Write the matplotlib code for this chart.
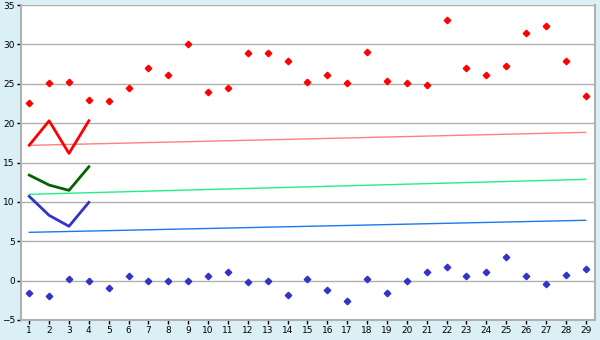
import matplotlib
matplotlib.use("Agg")
import matplotlib.pyplot as plt

days = list(range(1, 30))
red_pts = [22.5, 25.05, 25.2, 23.0, 22.8, 24.5, 26.95, 26.07, 30.0,
           23.9, 24.5, 28.86, 28.86, 27.85, 25.2, 26.07, 25.05, 29.0, 25.4,
           25.05, 24.9, 33.05, 26.95, 26.07, 27.2, 31.5, 32.4, 27.85, 23.4]
blue_pts = [-1.62, -2.0, 0.16, 0.0, -0.98, 0.54, 0.0, 0.0, 0.0,
            0.54, 1.05, -0.22, 0.0, -1.87, 0.16, -1.24, -2.63, 0.16, -1.62,
            0.0, 1.14, 1.77, 0.63, 1.05, 2.95, 0.54, -0.38, 0.76, 1.52]

short_x = [1, 2, 3, 4]
red_line = [17.2, 20.3, 16.16, 20.3]
green_line = [13.4, 12.14, 11.46, 14.46]
blue_line = [10.7, 8.29, 6.9, 9.94]

trend_x = [1, 29]
red_trend = [17.18, 18.83]
green_trend = [10.96, 12.86]
blue_trend = [6.13, 7.66]

bg = '#daf0f6'
grid_c = '#b0b0b0'

fig = plt.figure(figsize=(6, 3.4), dpi=100, facecolor=bg)
ax = fig.add_axes([0.0345, 0.059, 0.9575, 0.926])
ax.set_facecolor('white')

ax.plot(trend_x, red_trend, color='#ff8080', lw=1)
ax.plot(trend_x, green_trend, color='#22ee88', lw=1)
ax.plot(trend_x, blue_trend, color='#1a78f0', lw=1)

ax.plot(short_x, red_line, color='#ff0000', lw=2)
ax.plot(short_x, green_line, color='#006400', lw=2)
ax.plot(short_x, blue_line, color='#3333cc', lw=2)

ax.plot(days, red_pts, 'D', color='#ff0000', ms=3.3, ls='none')
ax.plot(days, blue_pts, 'D', color='#3333cc', ms=3.3, ls='none')

ax.set_xlim(0.57, 29.48)
ax.set_ylim(-5, 35)
ax.set_xticks(days)
ax.set_yticks(range(-5, 36, 5))
ax.yaxis.grid(True, color=grid_c, lw=1)
ax.set_axisbelow(True)

for s in ['left', 'bottom', 'right']:
    ax.spines[s].set_color(grid_c)
    ax.spines[s].set_linewidth(1.5)
ax.spines['top'].set_visible(False)

ax.tick_params(axis='both', colors='black', labelsize=6.5, length=3, width=1, pad=1.2)

fig.savefig('out.png', dpi=100, facecolor=bg)
